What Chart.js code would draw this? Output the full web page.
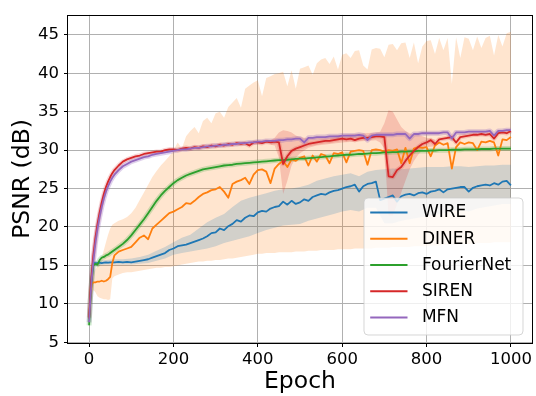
<!DOCTYPE html>
<html><head><meta charset="utf-8">
<script src="https://cdn.jsdelivr.net/npm/chart.js@4/dist/chart.umd.min.js"></script>
<style>html,body{margin:0;padding:0;background:#fff;}canvas{display:block;}</style>
</head><body>
<canvas id="c" width="536" height="396"></canvas>
<script>
const epochs = [0,3,6,10,15,20,25,30,35,40,45,50,55,60,
  70,80,90,100,110,120,130,140,150,160,170,180,190,200,
  210,220,230,240,250,260,270,280,290,300,
  310,320,330,340,350,360,370,380,390,400,
  410,420,430,440,450,460,470,480,490,500,
  510,520,530,540,550,560,570,580,590,600,
  610,620,630,640,650,660,670,680,690,700,
  710,720,730,740,750,760,770,780,790,800,
  810,820,830,840,850,860,870,880,890,900,
  910,920,930,940,950,960,970,980,990,1000];

const wire = [8.0,10.5,13.5,15.3,15.3,15.3,15.35,15.3,15.35,15.4,15.35,15.4,15.4,15.4,
  15.45,15.4,15.45,15.4,15.5,15.6,15.7,15.8,16.0,16.2,16.4,16.6,17.0,17.2,
  17.5,17.6,17.7,17.9,18.1,18.3,18.5,18.8,19.2,19.3,
  19.8,19.6,20.1,20.4,20.9,20.7,21.2,21.5,21.4,21.9,
  22.1,22.0,22.4,22.6,22.7,23.3,22.9,23.4,23.0,23.2,
  23.6,23.4,23.9,24.1,24.3,24.2,24.5,24.7,24.8,25.0,
  25.2,25.3,25.5,24.6,25.3,25.6,25.7,25.9,23.5,23.7,
  23.9,24.1,23.3,24.0,24.2,24.3,24.1,24.4,24.5,24.3,
  24.6,24.7,24.9,24.5,24.9,25.0,25.1,25.2,25.2,24.6,
  25.1,25.3,25.4,25.5,25.4,25.7,25.5,25.9,26.0,25.4];

const diner = [8.0,10.5,12.5,12.8,12.8,12.9,12.9,13.0,12.9,13.0,13.2,13.5,15.3,16.3,
  16.8,17.0,17.2,17.4,18.0,18.6,18.9,18.4,19.8,20.3,20.8,21.3,21.8,22.0,
  22.3,22.6,23.1,23.0,23.4,23.9,24.3,24.5,24.8,24.9,
  25.2,24.6,23.8,25.6,25.9,26.1,26.4,25.6,26.8,27.4,
  27.5,27.2,25.7,27.6,28.2,28.6,27.8,28.8,28.6,29.0,
  29.2,28.0,29.3,28.5,29.5,29.3,28.3,29.6,29.5,29.7,
  28.4,29.8,29.9,30.0,29.9,28.1,30.0,30.1,30.0,29.8,
  30.0,29.9,30.1,28.3,30.3,28.3,30.2,30.4,30.3,30.4,
  29.2,30.6,31.0,30.7,30.9,27.6,30.4,31.0,30.8,31.0,
  30.9,30.0,31.1,31.0,31.2,31.0,29.3,31.4,31.3,31.7];

const fourierNet = [7.2,10.5,13.0,15.0,15.2,15.1,15.7,16.0,16.1,16.3,16.4,16.6,16.8,17.0,
  17.4,17.8,18.3,18.9,19.6,20.3,21.0,21.8,22.6,23.4,24.1,24.7,25.2,25.7,
  26.1,26.4,26.7,26.9,27.1,27.3,27.5,27.6,27.7,27.8,
  27.9,28.0,28.05,28.1,28.2,28.25,28.3,28.35,28.4,28.45,
  28.5,28.55,28.6,28.65,28.7,28.7,28.75,28.8,28.85,28.9,
  28.9,28.95,29.0,29.05,29.1,29.15,29.2,29.25,29.3,29.35,
  29.4,29.4,29.45,29.5,29.5,29.55,29.6,29.6,29.65,29.7,
  29.7,29.75,29.75,29.8,29.8,29.85,29.85,29.9,29.9,29.9,
  29.95,29.95,30.0,30.0,30.0,30.05,30.05,30.05,30.1,30.1,
  30.1,30.1,30.15,30.15,30.15,30.2,30.2,30.2,30.2,30.2];

const siren = [8.2,11.5,13.8,16.3,18.6,20.4,21.9,23.2,24.3,25.2,25.9,26.5,27.0,27.4,
  28.0,28.5,28.8,29.0,29.2,29.3,29.5,29.6,29.7,29.8,29.8,30.0,30.1,30.1,
  30.0,30.2,30.3,30.2,30.4,30.3,30.5,30.4,30.6,30.5,
  30.7,30.6,30.8,30.7,30.9,30.8,30.9,30.6,31.0,31.0,
  30.9,31.1,31.0,31.1,31.0,28.2,29.2,29.9,30.2,30.4,
  30.6,30.8,30.9,31.0,31.1,31.2,31.2,31.3,31.4,31.5,
  31.4,31.5,31.3,31.5,31.6,31.6,31.7,31.8,31.8,31.7,
  26.6,26.5,27.4,27.8,28.6,29.3,29.9,30.4,30.8,31.0,
  31.3,30.8,31.4,31.5,31.6,31.7,31.0,31.7,31.8,31.9,
  32.0,32.0,32.1,32.0,32.1,31.5,32.2,32.3,32.2,32.5];

const mfn = [7.6,10.5,13.0,15.5,17.9,19.8,21.3,22.6,23.7,24.6,25.3,25.9,26.4,26.8,
  27.4,27.9,28.2,28.5,28.7,28.9,29.1,29.2,29.4,29.5,29.6,29.7,29.8,29.9,
  30.0,30.1,30.1,30.2,30.3,30.3,30.4,30.5,30.5,30.6,
  30.6,30.7,30.7,30.8,30.8,30.9,30.9,31.0,31.0,31.1,
  31.1,31.2,31.2,31.2,31.3,31.3,31.4,31.4,31.5,31.5,
  31.0,31.6,31.6,31.7,31.7,31.7,31.8,31.8,31.8,31.9,
  31.9,31.9,31.9,32.0,31.9,31.3,31.9,32.0,32.0,32.0,
  32.0,32.0,32.1,32.1,32.1,31.5,32.1,32.1,32.2,32.2,
  32.2,32.2,32.2,32.3,32.3,31.5,32.3,32.3,32.3,32.4,
  32.4,32.4,32.4,32.4,32.5,31.9,32.5,32.5,32.6,32.6];

const dinerHigh = [8.5,11.0,13.5,14.0,14.5,15.0,15.5,16.0,17.0,18.0,19.0,19.8,20.3,20.5,
  20.8,21.0,21.3,21.8,22.5,23.5,24.5,25.5,26.5,27.3,28.0,28.6,29.2,30.0,
  31.0,30.2,31.8,32.5,33.0,32.2,33.8,34.2,33.5,34.8,
  35.0,34.2,35.6,36.2,36.8,35.5,38.0,38.4,38.8,39.1,
  37.0,39.4,39.6,39.9,40.0,40.2,38.3,40.4,38.0,40.6,
  40.8,41.0,39.8,41.3,41.8,42.0,41.2,42.2,40.5,42.4,
  42.6,42.0,42.9,43.0,41.0,40.5,43.1,43.3,43.2,42.1,
  43.7,43.8,43.0,43.9,44.0,42.0,44.0,41.3,43.5,44.2,
  44.3,42.5,44.6,43.0,44.6,38.6,44.7,42.0,44.7,44.5,
  43.0,44.8,43.3,44.6,44.9,42.3,45.0,43.5,45.2,45.4];

const dinerLow = [7.8,10.0,11.0,11.8,11.5,11.0,10.8,10.7,10.6,10.6,10.5,10.6,13.3,13.6,
  13.8,14.0,14.1,14.1,14.2,14.3,14.4,14.5,14.6,14.7,14.7,14.8,14.8,14.9,
  15.0,15.1,15.2,15.3,15.4,15.5,15.5,15.6,15.6,15.7,
  15.7,15.8,15.9,15.9,16.0,16.1,16.2,16.3,16.4,16.5,
  16.5,16.6,16.6,16.6,16.7,16.7,16.7,16.7,16.8,16.8,
  16.8,16.9,16.9,16.9,17.0,17.0,17.0,17.0,17.1,17.1,
  17.1,17.1,17.2,17.2,17.2,17.2,17.2,17.3,17.3,17.3,
  17.3,17.4,17.4,17.4,17.4,17.4,17.5,17.5,17.5,17.5,
  17.6,17.6,17.6,17.7,17.7,17.7,17.7,17.8,17.8,17.8,
  17.8,17.9,17.9,17.9,17.9,18.0,18.0,18.0,18.0,18.0];

const wireBandEpochs = [0,10,20,40,60,80,100,120,140,160,180,200,220,240,260,280,300,
  320,340,360,380,400,420,440,460,480,500,520,540,560,580,600,620,640,660,680,700,
  720,740,760,780,800,820,840,860,880,900,920,940,960,980,1000];
const wireLow = [7.8,15.0,15.0,15.1,15.1,15.1,15.1,15.2,15.3,15.6,15.9,16.4,16.6,16.8,17.0,17.2,17.5,
  17.9,18.2,18.5,18.8,19.2,19.6,19.9,20.2,20.3,20.4,20.8,21.1,21.4,21.7,22.0,22.2,22.0,22.5,22.5,20.5,
  20.5,20.8,21.0,21.2,21.4,21.6,21.8,22.0,22.2,22.0,22.4,22.6,22.8,23.0,23.0];
const wireHigh = [8.2,15.6,15.6,15.7,15.8,15.8,15.9,16.1,16.4,16.9,17.4,18.0,18.6,19.0,19.8,20.6,21.2,
  21.7,22.6,23.4,23.8,24.1,24.4,24.7,24.9,25.0,25.2,25.5,26.0,26.3,26.6,26.8,27.0,26.6,27.2,27.4,27.5,
  27.6,27.5,27.6,27.7,27.8,27.8,27.8,27.9,27.9,27.8,27.9,28.0,28.0,28.1,28.1];

const sirenBandEpochs = [430,440,450,460,470,480,490,500,520,540,600,680,690,700,710,720,730,740,750,760,770,780,790,800,820];
const sirenLow  = [30.7,30.6,29.0,24.3,26.0,28.0,29.0,29.6,30.3,30.6,31.0,31.3,31.0,30.2,21.5,21.5,23.0,24.5,26.0,27.5,28.6,29.4,30.0,30.4,30.5];
const sirenHigh = [31.3,31.6,32.3,32.6,32.5,32.3,31.9,31.7,31.5,31.6,32.0,32.3,32.4,33.5,35.2,35.0,34.0,33.0,32.5,32.2,32.0,32.0,31.8,31.6,31.4];

const seriesNames = ['WIRE','DINER','FourierNet','SIREN','MFN'];
const seriesColors = ['#1f77b4','#ff7f0e','#2ca02c','#d62728','#9467bd'];
const xTicks = [0,200,400,600,800,1000];
const xTickLabels = ['0','200','400','600','800','1000'];
const yTicks = [5,10,15,20,25,30,35,40,45];
const yTickLabels = ['5','10','15','20','25','30','35','40','45'];
const xTitle = 'Epoch';
const yTitle = 'PSNR (dB)';

function pts(xs, ys){ return xs.map((x,i)=>({x:x, y:ys[i]})); }
function rgba(hex,a){const n=parseInt(hex.slice(1),16);return `rgba(${n>>16&255},${n>>8&255},${n&255},${a})`;}

const mainSeries = [wire, diner, fourierNet, siren, mfn];
const datasets = [];
mainSeries.forEach((s,i)=>{
  datasets.push({label:seriesNames[i], data:pts(epochs,s), borderColor:seriesColors[i], borderWidth:1.8,
    fill:false, order:5-i, pointRadius:0});
});
datasets.push({label:'_wlo', data:pts(wireBandEpochs,wireLow), borderWidth:0, borderColor:'transparent', fill:false, order:20});
datasets.push({label:'_whi', data:pts(wireBandEpochs,wireHigh), borderWidth:0, borderColor:'transparent', fill:5, backgroundColor:rgba(seriesColors[0],0.2), order:20});
datasets.push({label:'_dlo', data:pts(epochs,dinerLow), borderWidth:0, borderColor:'transparent', fill:false, order:21});
datasets.push({label:'_dhi', data:pts(epochs,dinerHigh), borderWidth:0, borderColor:'transparent', fill:7, backgroundColor:rgba(seriesColors[1],0.2), order:21});
datasets.push({label:'_slo', data:pts(sirenBandEpochs,sirenLow), borderWidth:0, borderColor:'transparent', fill:false, order:19});
datasets.push({label:'_shi', data:pts(sirenBandEpochs,sirenHigh), borderWidth:0, borderColor:'transparent', fill:9, backgroundColor:rgba(seriesColors[3],0.2), order:19});
datasets.push({label:'_fh', data:pts(epochs,fourierNet), borderWidth:5, borderColor:rgba(seriesColors[2],0.22), fill:false, order:15});
datasets.push({label:'_sh', data:pts(epochs,siren), borderWidth:4.5, borderColor:rgba(seriesColors[3],0.18), fill:false, order:15});
datasets.push({label:'_mh', data:pts(epochs,mfn), borderWidth:5, borderColor:rgba(seriesColors[4],0.3), fill:false, order:15});

const FONT = 'DejaVu Sans';

const framePlugin = {
  id:'frame',
  afterDatasetsDraw(chart){
    const {ctx, chartArea:a} = chart;
    ctx.save();
    ctx.strokeStyle = '#000'; ctx.lineWidth = 1;
    ctx.strokeRect(Math.round(a.left)-0.5, Math.round(a.top)+0.5, Math.round(a.right-a.left)+1, Math.round(a.bottom-a.top));
    ctx.restore();
  }
};

const legendPlugin = {
  id:'boxLegend',
  afterDraw(chart){
    const {ctx, chartArea:a} = chart;
    const w = 159, h = 137;
    const x0 = a.right - 9.5 - w, y0 = a.bottom - 8.5 - h;
    ctx.save();
    ctx.beginPath();
    ctx.roundRect(x0+0.5, y0+0.5, w, h, 4);
    ctx.fillStyle = 'rgba(255,255,255,0.8)';
    ctx.fill();
    ctx.strokeStyle = 'rgba(204,204,204,0.8)';
    ctx.lineWidth = 1;
    ctx.stroke();
    ctx.font = `17px "${FONT}"`;
    ctx.textBaseline = 'middle';
    ctx.textAlign = 'left';
    seriesNames.forEach((name,i)=>{
      const yy = y0 + 15 + i*26.25;
      ctx.beginPath();
      ctx.moveTo(x0+6.7, yy); ctx.lineTo(x0+44, yy);
      ctx.strokeStyle = seriesColors[i]; ctx.lineWidth = 2;
      ctx.stroke();
      ctx.fillStyle = '#000';
      ctx.fillText(name, x0+58.4, yy+0.5);
    });
    ctx.restore();
  }
};

new Chart(document.getElementById('c'), {
  type:'line',
  data:{datasets:datasets},
  plugins:[framePlugin, legendPlugin],
  options:{
    responsive:false, animation:false, devicePixelRatio:1,
    layout:{padding:{top:9, right:4, bottom:0, left:0}},
    plugins:{legend:{display:false}, tooltip:{enabled:false}},
    elements:{point:{radius:0}, line:{tension:0, borderJoinStyle:'round', borderCapStyle:'butt'}},
    scales:{
      x:{type:'linear', min:-50, max:1050,
        afterBuildTicks:s=>{s.ticks = xTicks.map(v=>({value:v}));},
        afterFit:s=>{s.height = 53;},
        grid:{color:'#b0b0b0', lineWidth:1, tickColor:'#000', tickLength:4, drawTicks:true},
        border:{display:false},
        ticks:{font:{family:FONT, size:16.5}, color:'#000', padding:3, maxRotation:0, autoSkip:false,
          callback:(v)=>{const k=xTicks.indexOf(v);return k>=0?xTickLabels[k]:'';}},
        title:{display:true, text:xTitle, color:'#000', font:{family:FONT, size:23.5, lineHeight:1}, padding:{top:0, bottom:2}}
      },
      y:{type:'linear', min:4.9, max:47.6,
        afterBuildTicks:s=>{s.ticks = yTicks.map(v=>({value:v}));},
        afterFit:s=>{s.width = 68;},
        grid:{color:'#b0b0b0', lineWidth:1, tickColor:'#000', tickLength:4, drawTicks:true},
        border:{display:false},
        ticks:{font:{family:FONT, size:16.5}, color:'#000', padding:5, autoSkip:false,
          callback:(v)=>{const k=yTicks.indexOf(v);return k>=0?yTickLabels[k]:'';}},
        title:{display:true, text:yTitle, color:'#000', font:{family:FONT, size:23.5, lineHeight:1}, padding:{top:11, bottom:0}}
      }
    }
  }
});
</script>
</body></html>
